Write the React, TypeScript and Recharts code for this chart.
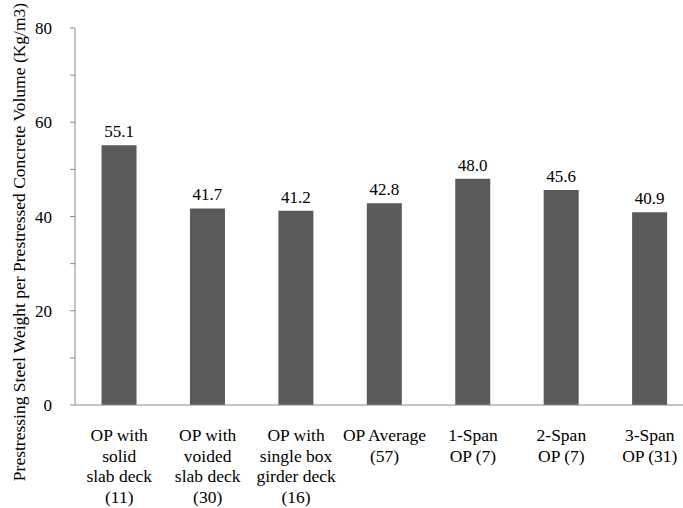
import { Bar, BarChart, LabelList, XAxis, YAxis } from 'recharts'

const categories = [
    'OP with\nsolid\nslab deck\n(11)',
    'OP with\nvoided\nslab deck\n(30)',
    'OP with\nsingle box\ngirder deck\n(16)',
    'OP Average\n(57)',
    '1-Span\nOP (7)',
    '2-Span\nOP (7)',
    '3-Span\nOP (31)',
]
const steelWeight = [55.1, 41.7, 41.2, 42.8, 48.0, 45.6, 40.9]
const yTicks = [0, 10, 20, 30, 40, 50, 60, 70, 80]
const yTitle = 'Prestressing Steel Weight per Prestressed Concrete Volume (Kg/m3)'

const data = categories.map((name, i) => ({ name, value: steelWeight[i] }))

const FONT = 'Liberation Serif'

const CategoryTick = (props: any) => {
    const { x, y, payload } = props
    const lines = String(payload.value).split('\n')
    return (
        <text x={x} y={y} textAnchor='middle' fill='#000' style={{ fontFamily: FONT, fontSize: 17.5 }}>
            {lines.map((line, i) => (
                <tspan key={i} x={x} y={y + 36 + i * 20.7}>{line}</tspan>
            ))}
        </text>
    )
}

const App = () => {
    return (
        <div style={{ position: 'fixed', top: 0, left: 0, width: 683, height: 508, overflow: 'hidden', background: '#fff' }}>
            <BarChart
                width={694}
                height={508}
                data={data}
                margin={{ top: 28, right: 0, bottom: 0, left: 0 }}
                barCategoryGap='30%'
                style={{ overflow: 'visible' }}
            >
                <XAxis
                    dataKey='name'
                    interval={0}
                    height={103}
                    stroke='#8a8a8a'
                    tickLine={false}
                    tickSize={0}
                    tickMargin={0}
                    tick={<CategoryTick />}
                />
                <YAxis
                    width={75}
                    domain={[0, 80]}
                    ticks={yTicks}
                    interval={0}
                    stroke='#8a8a8a'
                    tickSize={5}
                    tickMargin={18}
                    tick={{ fill: '#000', fontSize: 17, style: { fontFamily: FONT } }}
                    tickFormatter={(v) => (v % 20 === 0 ? `${v}` : '')}
                    label={{
                        content: () => (
                            <text
                                x={25}
                                y={242}
                                transform='rotate(-90 25 242)'
                                textAnchor='middle'
                                fill='#000'
                                style={{ fontFamily: FONT, fontSize: 17.5 }}
                            >
                                {yTitle}
                            </text>
                        ),
                    }}
                />
                <Bar dataKey='value' fill='#5a5a5a' isAnimationActive={false}>
                    <LabelList
                        dataKey='value'
                        position='top'
                        offset={8}
                        fill='#000'
                        fontSize={17}
                        style={{ fontFamily: FONT }}
                        formatter={(v: any) => Number(v).toFixed(1)}
                    />
                </Bar>
            </BarChart>
        </div>
    )
}

export default App
